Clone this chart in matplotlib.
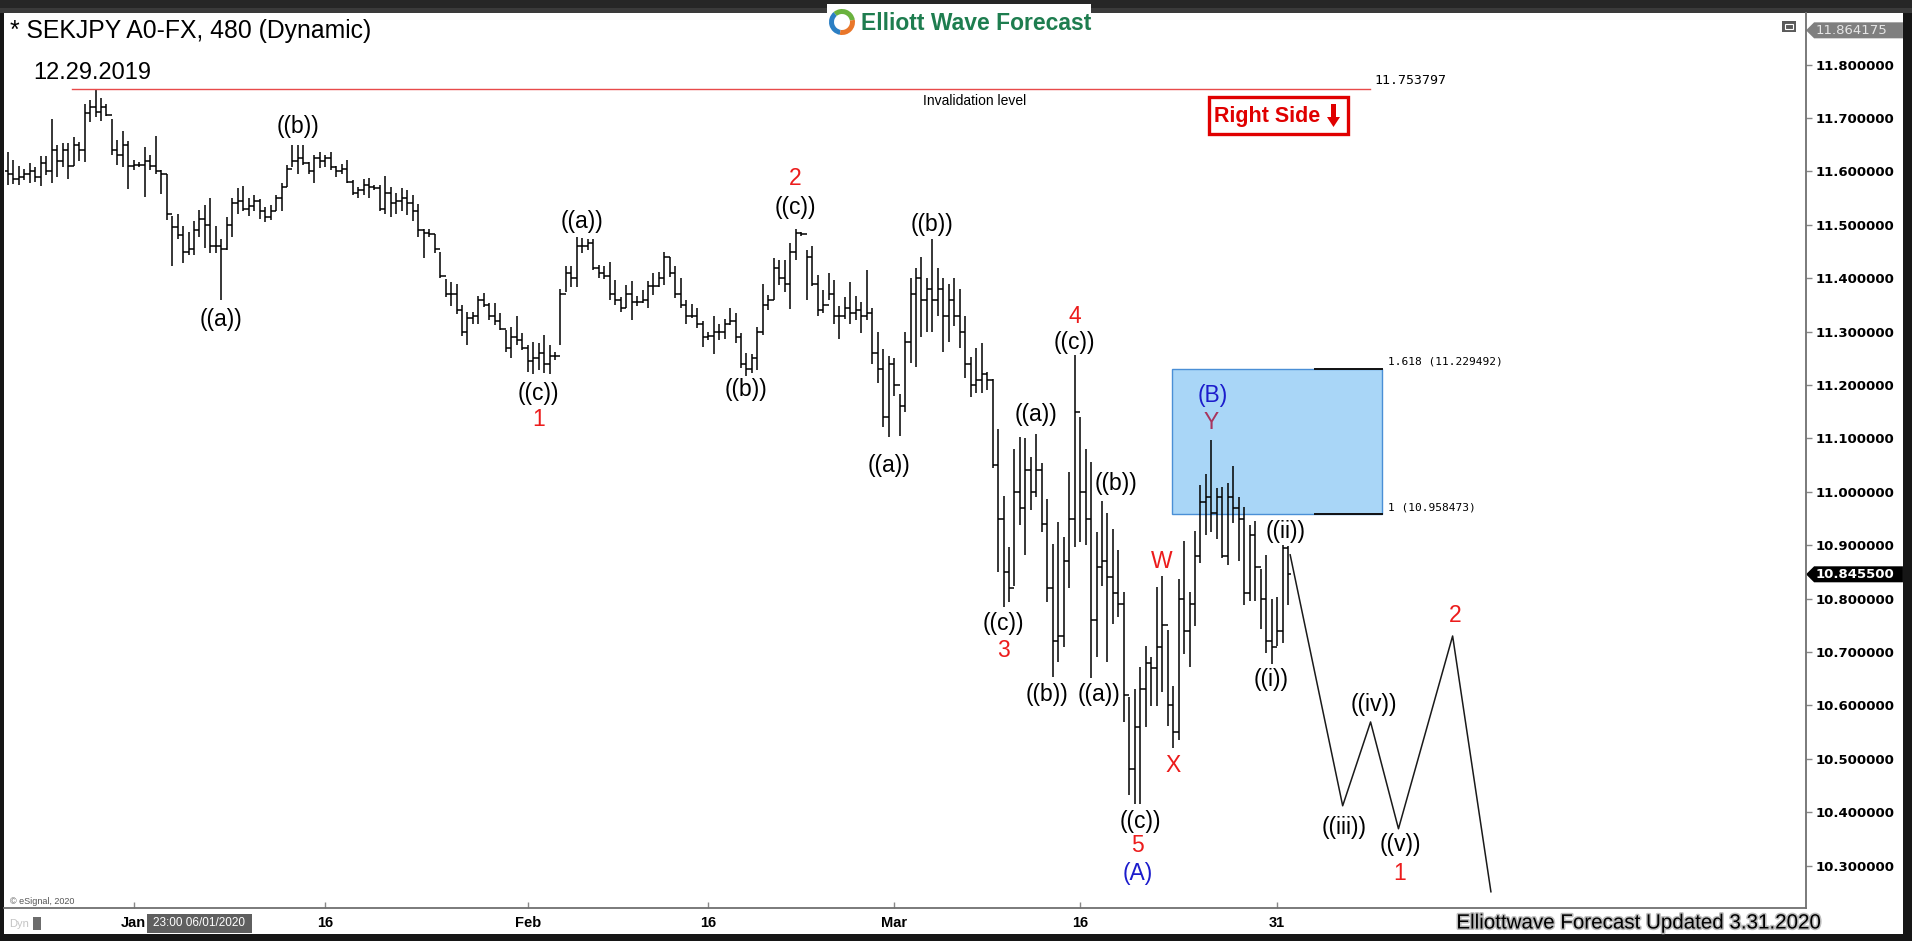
import matplotlib
matplotlib.use('Agg')
import matplotlib.pyplot as plt
import matplotlib.patches as mpatches
import matplotlib.patheffects as pe
import matplotlib.transforms as mtransforms
from matplotlib import font_manager
import numpy as np

W, H = 1912, 941

# 8-hour bars SEKJPY (high / low / close)
highs = [
    11.637, 11.621, 11.610, 11.604, 11.615, 11.609, 11.628, 11.629, 11.698, 11.650,
    11.653, 11.654, 11.664, 11.655, 11.726, 11.734, 11.754, 11.737, 11.727, 11.698,
    11.659, 11.676, 11.657, 11.621, 11.618, 11.646, 11.631, 11.666, 11.603, 11.596,
    11.517, 11.520, 11.497, 11.487, 11.508, 11.528, 11.537, 11.550, 11.497, 11.473,
    11.514, 11.551, 11.568, 11.573, 11.550, 11.556, 11.548, 11.534, 11.537, 11.556,
    11.579, 11.612, 11.649, 11.649, 11.649, 11.618, 11.631, 11.637, 11.631, 11.637,
    11.610, 11.614, 11.621, 11.584, 11.571, 11.585, 11.587, 11.575, 11.575, 11.591,
    11.571, 11.560, 11.568, 11.566, 11.556, 11.539, 11.493, 11.492, 11.483,
    11.450, 11.398, 11.392, 11.390, 11.350, 11.336, 11.336, 11.367, 11.372, 11.354,
    11.353, 11.334, 11.303, 11.309, 11.329, 11.297, 11.275, 11.281, 11.279, 11.294,
    11.275, 11.262, 11.379, 11.423, 11.422, 11.478, 11.475, 11.473, 11.473, 11.425,
    11.423, 11.431, 11.397, 11.365, 11.387, 11.395, 11.367, 11.378, 11.394,
    11.410, 11.412, 11.450, 11.440, 11.422, 11.400, 11.359, 11.352, 11.345, 11.319,
    11.300, 11.329, 11.314, 11.323, 11.344, 11.334, 11.297, 11.260, 11.258, 11.309,
    11.390, 11.368, 11.437, 11.435, 11.434, 11.466, 11.493, 11.487, 11.453, 11.460,
    11.406, 11.378, 11.410, 11.397, 11.348, 11.364, 11.392, 11.367, 11.356, 11.415,
    11.345, 11.300, 11.267, 11.254, 11.250, 11.183, 11.300, 11.400, 11.420, 11.440,
    11.400, 11.473, 11.420, 11.400, 11.390, 11.400, 11.380, 11.330, 11.253, 11.269,
    11.278, 11.225,
    11.212, 11.118, 10.992, 10.897, 11.081, 11.103, 11.100, 11.065, 11.109, 11.053,
    10.987, 10.903, 10.944, 10.915, 11.038, 11.256, 11.140, 11.081,
    11.056, 10.925, 10.983, 10.961, 10.931, 10.891, 10.813, 10.616, 10.631, 10.671,
    10.711, 10.691, 10.821, 10.842, 10.742, 10.636, 10.836, 10.908, 10.813, 10.927,
    11.012, 11.034, 11.097, 11.008, 11.009, 11.016, 11.048, 10.990, 10.971, 10.937,
    10.945, 10.856, 10.881, 10.800, 10.803, 10.900, 10.898,
]
lows = [
    11.575, 11.576, 11.575, 11.584, 11.578, 11.581, 11.573, 11.593, 11.579, 11.590,
    11.608, 11.586, 11.610, 11.620, 11.618, 11.693, 11.701, 11.695, 11.704, 11.631,
    11.612, 11.609, 11.567, 11.603, 11.608, 11.552, 11.603, 11.595, 11.558, 11.509,
    11.422, 11.473, 11.428, 11.444, 11.444, 11.478, 11.456, 11.447, 11.447, 11.359,
    11.453, 11.478, 11.520, 11.525, 11.517, 11.526, 11.510, 11.506, 11.509, 11.525,
    11.525, 11.571, 11.609, 11.595, 11.612, 11.596, 11.578, 11.606, 11.609, 11.603,
    11.590, 11.596, 11.578, 11.556, 11.550, 11.556, 11.550, 11.565, 11.525, 11.521,
    11.514, 11.521, 11.525, 11.518, 11.508, 11.478, 11.437, 11.478, 11.447,
    11.400, 11.365, 11.348, 11.333, 11.291, 11.275, 11.315, 11.315, 11.347, 11.322,
    11.312, 11.303, 11.262, 11.250, 11.275, 11.266, 11.225, 11.221, 11.228, 11.222,
    11.221, 11.247, 11.275, 11.375, 11.384, 11.383, 11.447, 11.453, 11.415, 11.400,
    11.398, 11.359, 11.350, 11.337, 11.344, 11.322, 11.348, 11.353, 11.344,
    11.369, 11.384, 11.387, 11.403, 11.362, 11.345, 11.315, 11.325, 11.306, 11.272,
    11.285, 11.258, 11.285, 11.287, 11.312, 11.279, 11.231, 11.216, 11.222, 11.228,
    11.294, 11.340, 11.359, 11.387, 11.375, 11.342, 11.434, 11.479, 11.359, 11.385,
    11.329, 11.334, 11.359, 11.315, 11.287, 11.323, 11.315, 11.322, 11.298, 11.322,
    11.240, 11.203, 11.121, 11.103, 11.180, 11.104, 11.150, 11.241, 11.234, 11.290,
    11.300, 11.300, 11.330, 11.262, 11.280, 11.310, 11.270, 11.214, 11.177, 11.185,
    11.185, 11.190,
    11.044, 10.850, 10.785, 10.794, 10.823, 10.937, 10.881, 10.965, 10.990, 10.925,
    10.794, 10.654, 10.682, 10.710, 10.819, 10.897, 10.906, 10.900,
    10.652, 10.691, 10.823, 10.682, 10.753, 10.766, 10.569, 10.432, 10.415, 10.416,
    10.559, 10.598, 10.598, 10.625, 10.561, 10.521, 10.535, 10.697, 10.672, 10.748,
    10.866, 10.919, 10.924, 10.911, 10.876, 10.862, 10.941, 10.870, 10.788, 10.796,
    10.795, 10.744, 10.698, 10.678, 10.712, 10.716, 10.788,
]
closes = [
    11.595, 11.585, 11.590, 11.595, 11.600, 11.590, 11.615, 11.600, 11.640, 11.620,
    11.640, 11.610, 11.650, 11.640, 11.710, 11.720, 11.712, 11.720, 11.705, 11.640,
    11.630, 11.650, 11.610, 11.612, 11.612, 11.620, 11.610, 11.600, 11.595, 11.520,
    11.495, 11.480, 11.450, 11.455, 11.490, 11.510, 11.500, 11.460, 11.460, 11.455,
    11.500, 11.540, 11.545, 11.530, 11.535, 11.545, 11.525, 11.515, 11.525, 11.550,
    11.570, 11.605, 11.620, 11.625, 11.615, 11.600, 11.625, 11.620, 11.625, 11.608,
    11.600, 11.605, 11.580, 11.560, 11.565, 11.575, 11.570, 11.568, 11.530, 11.560,
    11.540, 11.545, 11.550, 11.540, 11.525, 11.490, 11.485, 11.482, 11.455,
    11.405, 11.370, 11.370, 11.340, 11.300, 11.325, 11.330, 11.360, 11.350, 11.330,
    11.320, 11.305, 11.270, 11.290, 11.285, 11.270, 11.245, 11.250, 11.260, 11.240,
    11.255, 11.255, 11.370, 11.410, 11.400, 11.460, 11.460, 11.465, 11.420, 11.410,
    11.405, 11.370, 11.360, 11.345, 11.370, 11.355, 11.355, 11.360, 11.385,
    11.385, 11.400, 11.440, 11.410, 11.370, 11.350, 11.330, 11.330, 11.315, 11.290,
    11.292, 11.300, 11.300, 11.315, 11.320, 11.290, 11.240, 11.230, 11.250, 11.300,
    11.350, 11.360, 11.420, 11.400, 11.390, 11.450, 11.485, 11.482, 11.440, 11.390,
    11.340, 11.350, 11.370, 11.330, 11.330, 11.345, 11.335, 11.340, 11.330, 11.335,
    11.260, 11.230, 11.140, 11.240, 11.200, 11.160, 11.280, 11.370, 11.400, 11.360,
    11.380, 11.360, 11.380, 11.330, 11.360, 11.330, 11.300, 11.240, 11.200, 11.210,
    11.220, 11.210,
    11.050, 10.950, 10.850, 10.820, 11.000, 10.970, 11.040, 11.000, 11.040, 10.940,
    10.820, 10.720, 10.730, 10.870, 10.950, 11.150, 11.000, 10.950,
    10.760, 10.860, 10.870, 10.840, 10.810, 10.790, 10.620, 10.480, 10.560, 10.630,
    10.680, 10.670, 10.710, 10.750, 10.600, 10.550, 10.800, 10.740, 10.790, 10.880,
    10.980, 10.990, 10.960, 10.990, 10.880, 10.990, 10.970, 10.950, 10.810, 10.920,
    10.860, 10.800, 10.720, 10.710, 10.740, 10.895, 10.8455,
]
first_open = 11.600

# date axis (bar index of the labelled bar)
date_pos = [23, 58, 95, 128, 162, 196, 232]
date_labels = ['Jan', '16', 'Feb', '16', 'Mar', '16', '31']
price_ticks = [10.3, 10.4, 10.5, 10.6, 10.7, 10.8, 10.9, 11.0,
               11.1, 11.2, 11.3, 11.4, 11.5, 11.6, 11.7, 11.8]

invalidation = 11.753797
fib_1 = 10.958473
fib_1618 = 11.229492
last_price = 10.8455
top_price = 11.864175

# projected path after ((ii))
proj_x = [234.4, 244.0, 249.1, 254.2, 264.1, 271.1]
proj_y = [10.882, 10.412, 10.569, 10.369, 10.730, 10.251]

RED = '#ec1c1c'
BLUE = '#1c1ccc'
MAROON = '#a8345e'
wave_labels = [
    ('((a))', 39, 11.322, 'black'),
    ('((b))', 53, 11.685, 'black'),
    ('((c))', 97, 11.185, 'black'), ('1', 97, 11.136, RED),
    ('((a))', 105, 11.507, 'black'),
    ('((b))', 135, 11.191, 'black'),
    ('((c))', 144, 11.533, 'black'), ('2', 144, 11.586, RED),
    ('((a))', 161, 11.050, 'black'),
    ('((b))', 169, 11.501, 'black'),
    ('((c))', 182, 10.754, 'black'), ('3', 182, 10.702, RED),
    ('((a))', 188, 11.144, 'black'),
    ('((b))', 190, 10.620, 'black'),
    ('((c))', 195, 11.279, 'black'), ('4', 195, 11.329, RED),
    ('((a))', 199.5, 10.620, 'black'),
    ('((b))', 202.5, 11.015, 'black'),
    ('((c))', 207, 10.382, 'black'), ('5', 206.5, 10.337, RED), ('(A)', 206.5, 10.286, BLUE),
    ('W', 211, 10.870, RED),
    ('X', 213, 10.488, RED),
    ('(B)', 220.3, 11.180, BLUE), ('Y', 220, 11.129, MAROON),
    ('((i))', 231, 10.649, 'black'),
    ('((ii))', 233.5, 10.925, 'black'),
    ('((iii))', 244.2, 10.372, 'black'),
    ('((iv))', 249.7, 10.601, 'black'),
    ('((v))', 254.5, 10.339, 'black'), ('1', 254.5, 10.286, RED),
    ('2', 264.5, 10.769, RED),
]


def has_font(name):
    try:
        font_manager.findfont(font_manager.FontProperties(family=name),
                              fallback_to_default=False)
        return True
    except Exception:
        return False


narrow = 'Liberation Sans Narrow' if has_font('Liberation Sans Narrow') else 'Liberation Sans'
plt.rcParams['font.family'] = ['Liberation Sans', 'DejaVu Sans']

fig = plt.figure(figsize=(W / 100, H / 100), dpi=100, facecolor='#161616')

# background: dark frame + white panel (pixel coordinates)
bg = fig.add_axes([0, 0, 1, 1], zorder=0)
bg.set_xlim(0, W)
bg.set_ylim(H, 0)
bg.axis('off')
bg.add_patch(mpatches.Rectangle((0, 0), W, 13, fc='#262626', ec='none'))
bg.add_patch(mpatches.Rectangle((0, 8), W, 5, fc='#3a3a3a', ec='none'))
bg.add_patch(mpatches.Rectangle((4, 13), 1903 - 4, 934 - 13, fc='white', ec='none'))

# main price axes
x0_px, dx_px = 8.0, 5.47
ax = fig.add_axes([4 / W, (H - 908) / H, (1806 - 4) / W, (908 - 13) / H], zorder=1)
ax.set_facecolor('none')
ax.set_xlim((4 - x0_px) / dx_px, (1806 - x0_px) / dx_px)
ax.set_ylim(11.8 - (908 - 64.6) / 534, 11.8 + (64.6 - 13) / 534)

idx = np.arange(len(highs))
opens = [first_open] + closes[:-1]
ax.vlines(idx, lows, highs, color='black', lw=1.1)
ax.hlines(opens, idx - 0.5, idx, color='black', lw=1.1)
ax.hlines(closes, idx, idx + 0.5, color='black', lw=1.1)

# invalidation level
ax.plot([11.7, 249.0], [invalidation, invalidation], color='#e84a4a', lw=1.0)
ax.text(249.8, invalidation + 0.017, '11.753797', family='DejaVu Sans Mono',
        fontsize=9.5, ha='left', va='center')
ax.text(176.8, 11.732, 'Invalidation level', fontsize=10, ha='center', va='center')

# blue target box
ax.add_patch(mpatches.Rectangle((212.8, fib_1), 251.2 - 212.8, fib_1618 - fib_1,
                                fc='#a9d6f7', ec='#4a8fd6', lw=1.0, zorder=0.5))
ax.plot([239.0, 251.2], [fib_1618, fib_1618], color='#111111', lw=1.4)
ax.plot([239.0, 251.2], [fib_1, fib_1], color='#111111', lw=1.4)
ax.text(252.2, fib_1618 + 0.014, '1.618 (11.229492)', family='DejaVu Sans Mono',
        fontsize=8, ha='left', va='center')
ax.text(252.2, fib_1 + 0.012, '1 (10.958473)', family='DejaVu Sans Mono',
        fontsize=8, ha='left', va='center')

# projection
ax.plot(proj_x, proj_y, color='#1a1a1a', lw=1.1)

for txt, xi, yv, col in wave_labels:
    ax.text(xi, yv, txt, color=col, fontsize=16.5, ha='center', va='center')

# axes styling
for s in ['left', 'top']:
    ax.spines[s].set_visible(False)
for s in ['right', 'bottom']:
    ax.spines[s].set_color('#707070')
    ax.spines[s].set_linewidth(1.3)
ax.yaxis.tick_right()
ax.set_yticks(price_ticks)
ax.set_yticklabels(['%.6f' % v for v in price_ticks])
ax.tick_params(axis='y', direction='out', length=4, width=1, color='#888888',
               pad=3, labelsize=9.5)
for lab in ax.get_yticklabels():
    lab.set_fontweight('bold')
    lab.set_family('DejaVu Sans')
ax.set_xticks(date_pos)
ax.set_xticklabels(date_labels)
ax.tick_params(axis='x', direction='in', length=4, width=1, color='#888888',
               pad=6, labelsize=10.5)
for lab in ax.get_xticklabels():
    lab.set_fontweight('bold')
    lab.set_family(narrow)

# price flags on the right axis
blend = mtransforms.blended_transform_factory(ax.transAxes, ax.transData)
hh = 8.0 / 534
for price, fc, tc, wt in [(last_price, 'black', 'white', 'bold'),
                          (top_price, '#7f7f7f', '#e6e6e6', 'normal')]:
    poly = [(1.0, price), (1.0045, price + hh), (1.0538, price + hh),
            (1.0538, price - hh), (1.0045, price - hh)]
    ax.add_patch(mpatches.Polygon(poly, closed=True, fc=fc, ec='none',
                                  transform=blend, clip_on=False))
    ax.text(1.0055, price, '%.6f' % price, transform=blend, color=tc, fontsize=9.5,
            fontweight=wt, family='DejaVu Sans', ha='left', va='center')

# foreground texts, logo and boxes (pixel coordinates)
fg = fig.add_axes([0, 0, 1, 1], zorder=2)
fg.set_xlim(0, W)
fg.set_ylim(H, 0)
fg.axis('off')
fg.patch.set_alpha(0)

fg.text(10, 31, '* SEKJPY A0-FX, 480 (Dynamic)', fontsize=17.8, ha='left', va='center')
fg.text(33, 73, '12.29.2019', fontsize=17, ha='left', va='center')

fg.add_patch(mpatches.Rectangle((827, 4), 264, 36, fc='white', ec='none'))
cx, cy = 842, 22
fg.add_patch(mpatches.Wedge((cx, cy), 13, 100, 230, width=5, fc='#2b7fc4'))
fg.add_patch(mpatches.Wedge((cx, cy), 13, 230, 350, width=5, fc='#6ab23e'))
fg.add_patch(mpatches.Wedge((cx, cy), 13, -10, 100, width=5, fc='#e9762a'))
fg.text(861, 23, 'Elliott Wave Forecast', fontsize=16.5, fontweight='bold',
        color='#1e7d4f', ha='left', va='center')

fg.add_patch(mpatches.Rectangle((1209, 97), 139, 37, fc='white', ec='#e00000', lw=2.4))
fg.text(1214, 116, 'Right Side', fontsize=15.5, fontweight='bold', color='#e00000',
        ha='left', va='center', family=narrow)
fg.add_patch(mpatches.Polygon([(1331, 104), (1336, 104), (1336, 117), (1340, 117),
                               (1333.5, 127), (1327, 117), (1331, 117)],
                              closed=True, fc='#e00000', ec='none'))

fg.add_patch(mpatches.Rectangle((1782, 21), 14, 11, fc='#5a5a5a', ec='none'))
fg.add_patch(mpatches.Rectangle((1785, 24), 8, 5, fc='none', ec='white', lw=0.8))

fg.text(10, 902, '© eSignal, 2020', fontsize=6.5, color='#555555', ha='left', va='center')
fg.text(9, 924, 'Dyn', fontsize=8, color='#c4c4c4', ha='left', va='center')
fg.add_patch(mpatches.Rectangle((33, 917), 8, 13, fc='#6c6c6c', ec='none'))
fg.add_patch(mpatches.Rectangle((147, 914), 105, 19, fc='#5f5f5f', ec='none'))
fg.text(199.5, 923.5, '23:00 06/01/2020', fontsize=8.5, color='white',
        ha='center', va='center', family=narrow)
fg.text(1638, 923, 'Elliottwave Forecast Updated 3.31.2020', fontsize=14.8,
        color='black', ha='center', va='center', family=narrow,
        path_effects=[pe.withStroke(linewidth=2.2, foreground='#bdbdbd')])

fig.savefig('out.png', dpi=100, facecolor=fig.get_facecolor())
